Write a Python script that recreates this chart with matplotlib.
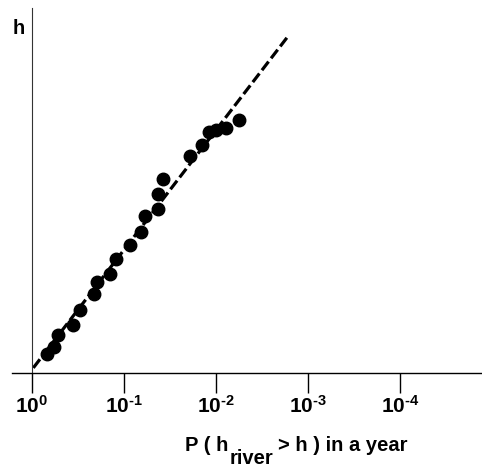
import matplotlib
matplotlib.use("Agg")
from matplotlib import pyplot as plt
from matplotlib.ticker import FixedLocator, FixedFormatter, NullLocator

# annual exceedance probability and stage h (arbitrary units)
prob = [0.693, 0.574, 0.519, 0.357, 0.300, 0.213, 0.196, 0.143, 0.123, 0.0855, 0.065,
        0.0598, 0.0425, 0.0425, 0.0379, 0.0190, 0.01435, 0.01194, 0.01002, 0.00781, 0.00561]
h = [0.51, 0.70, 1.04, 1.32, 1.73, 2.16, 2.49, 2.71, 3.13, 3.52, 3.87,
     4.30, 4.50, 4.91, 5.31, 5.95, 6.24, 6.61, 6.66, 6.72, 6.93]

# fitted line end points
fit_p = [0.968, 0.00161]
fit_h = [0.14, 9.26]

tick_vals = [1, 1e-1, 1e-2, 1e-3, 1e-4]
tick_labels = [r'$10^{0}$', r'$10^{\text{-}1}$', r'$10^{\text{-}2}$',
               r'$10^{\text{-}3}$', r'$10^{\text{-}4}$']

plt.rcParams['font.family'] = ['Liberation Sans', 'DejaVu Sans']
plt.rcParams['font.weight'] = 'bold'
plt.rcParams['mathtext.fontset'] = 'custom'
plt.rcParams['mathtext.rm'] = 'Liberation Sans:bold'
plt.rcParams['mathtext.it'] = 'Liberation Sans:bold'
plt.rcParams['mathtext.bf'] = 'Liberation Sans:bold'

W, H = 482, 469
fig = plt.figure(figsize=(W / 100, H / 100), dpi=100)
ax = fig.add_axes([12 / W, 1 - 373 / H, 470 / W, 365 / H])

ax.plot(fit_p, fit_h, color='black', lw=2.3, linestyle=(0, (3.4, 1.3)), zorder=2)
ax.plot(prob, h, 'o', color='black', markersize=9, zorder=3)

ax.set_xscale('log')
ax.set_xlim(10 ** (20 / 92), 10 ** (-450 / 92))
ax.set_ylim(0, 10)

ax.xaxis.set_major_locator(FixedLocator(tick_vals))
ax.xaxis.set_major_formatter(FixedFormatter(tick_labels))
ax.xaxis.set_minor_locator(NullLocator())
ax.tick_params(axis='x', direction='out', length=14.5, width=1, pad=1, labelsize=15)
ax.set_yticks([])

ax.spines['top'].set_visible(False)
ax.spines['right'].set_visible(False)
ax.spines['left'].set_position(('data', 1.0))
ax.spines['left'].set_color('#333333')
ax.spines['bottom'].set_linewidth(1)

fs = 14.5
fig.text(13 / W, 1 - 34 / H, 'h', fontsize=fs, fontweight='bold', ha='left', va='baseline')
fig.text(185 / W, 1 - 451 / H, 'P ( h', fontsize=fs, fontweight='bold', ha='left', va='baseline')
fig.text(230 / W, 1 - 464 / H, 'river', fontsize=fs, fontweight='bold', ha='left', va='baseline')
fig.text(278 / W, 1 - 451 / H, '> h ) in a year', fontsize=fs, fontweight='bold', ha='left', va='baseline')

fig.savefig('out.png', dpi=100)
